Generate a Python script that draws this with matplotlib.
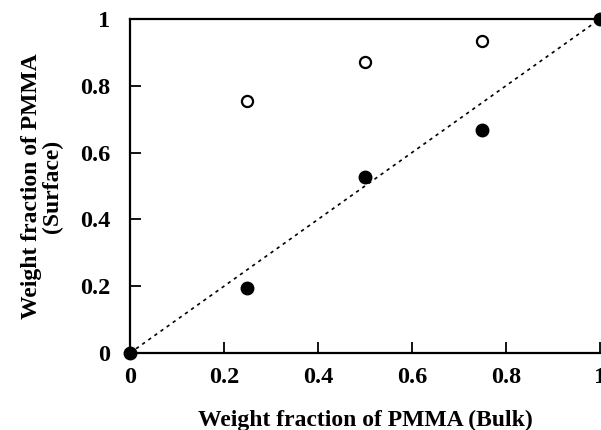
import matplotlib
matplotlib.use("Agg")
import matplotlib.pyplot as plt

bulk = [0.0, 0.25, 0.5, 0.75, 1.0]
surface_filled = [0.0, 0.195, 0.528, 0.668, 1.0]
open_x = [0.25, 0.5, 0.75]
surface_open = [0.753, 0.872, 0.935]
diag = [0.0, 1.0]
ticks = [0, 0.2, 0.4, 0.6, 0.8, 1]
tick_labels = ["0", "0.2", "0.4", "0.6", "0.8", "1"]

plt.rcParams['font.family'] = ['Liberation Serif', 'DejaVu Serif']
plt.rcParams['font.weight'] = 'bold'

fig = plt.figure(figsize=(6.01, 4.30), dpi=100)
ax = fig.add_axes([0.2163, 0.179, 0.782, 0.777])

ax.plot(diag, diag, linestyle=(0, (2, 2.5)), color='black', linewidth=1.2, clip_on=False)
ax.plot(bulk, surface_filled, 'o', color='black', markersize=9, clip_on=False, zorder=5)
ax.plot(open_x, surface_open, 'o', markerfacecolor='white', markeredgecolor='black',
        markeredgewidth=1.6, markersize=8, clip_on=False, zorder=5)

ax.set_xlim(0, 1)
ax.set_ylim(0, 1)
ax.set_xticks(ticks)
ax.set_xticklabels(tick_labels)
ax.set_yticks(ticks)
ax.set_yticklabels(tick_labels)
ax.tick_params(direction='in', length=8, width=1.3, labelsize=17.5)
ax.tick_params(axis='y', pad=14)
ax.tick_params(axis='x', pad=10)
for lab in ax.get_xticklabels() + ax.get_yticklabels():
    lab.set_fontweight('bold')
for s in ax.spines.values():
    s.set_linewidth(1.6)
ax.spines['right'].set_visible(False)

ax.set_xlabel("Weight fraction of PMMA (Bulk)", fontsize=17, fontweight='bold', labelpad=15.5)
ax.set_ylabel("Weight fraction of PMMA\n(Surface)", fontsize=17, fontweight='bold', labelpad=12,
              linespacing=1.0)

fig.savefig("out.png", dpi=100)
